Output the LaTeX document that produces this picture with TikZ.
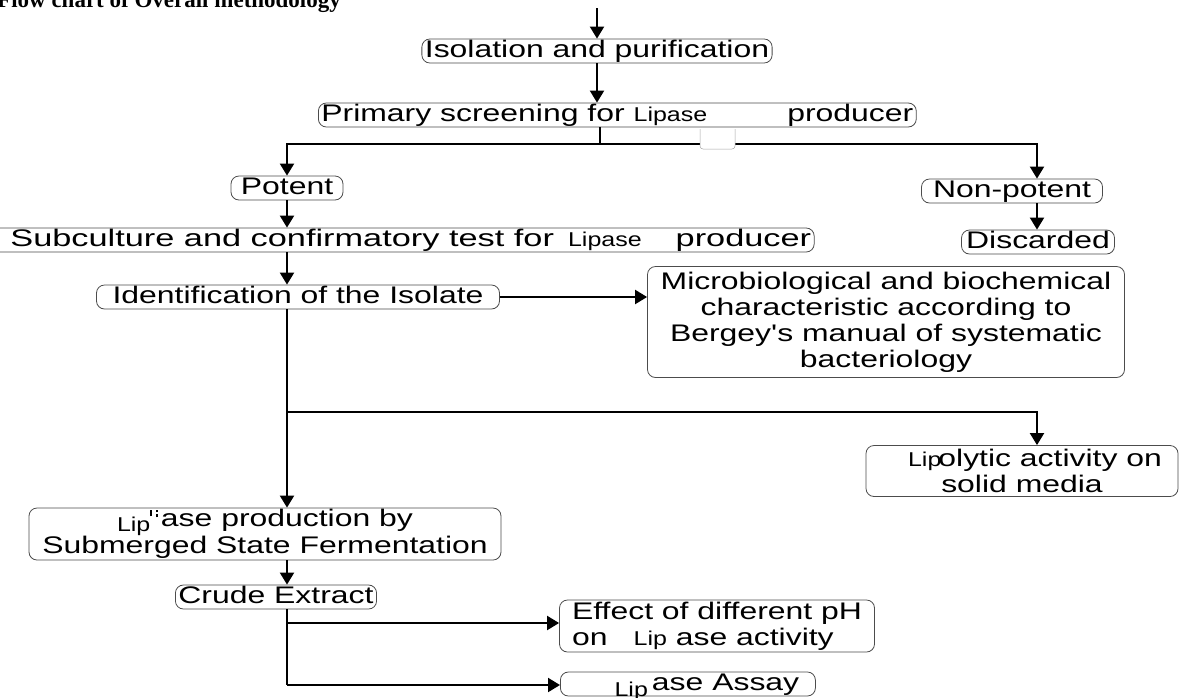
\documentclass[tikz,border=0pt]{standalone}
\usepackage{fontspec}
\usetikzlibrary{arrows.meta}
\newfontfamily\af[FakeStretch=1.33]{Liberation Sans}
\newfontfamily\afw[FakeStretch=1.43]{Liberation Sans}
\newfontfamily\lf[FakeStretch=1.25]{Liberation Sans}
\newfontfamily\tf{Liberation Serif}
\newcommand\lp[1]{{\lf\fontsize{20}{22}\selectfont #1}}
\tikzset{
  boxbase/.style={draw=black!70, line width=0.8pt, rounded corners=8pt, fill=white,
    font=\af\fontsize{24}{26}\selectfont, inner xsep=3pt, inner ysep=1pt},
  box/.style={boxbase, text height=17pt, text depth=5pt},
  mbox/.style={boxbase, align=center},
  arr/.style={line width=2pt, -{Triangle[length=12pt,width=14pt]}},
  ln/.style={line width=2pt}
}
\begin{document}
\begin{tikzpicture}[x=1pt,y=-1pt]
\useasboundingbox (0,0) rectangle (1186,697);
\clip (0,0) rectangle (1186,697);

% title (cut at top)
\node[anchor=base west, inner sep=0, font=\tf\bfseries\fontsize{23}{26}\selectfont] (title) at (-3,7.5) {Flow chart of Overall methodology};

% nodes
\node[box, minimum width=345pt] (iso) at (597,51) {Isolation and purification};
\node[box, anchor=west] (prim) at (318,115) {Primary screening for \lp{Lipase}\hspace{80pt}producer};
\node[box, minimum width=112pt] (pot) at (287,188) {Potent};
\node[box, minimum width=181pt] (npot) at (1012,191) {Non-potent};
\node[box, minimum width=153pt] (disc) at (1038,242) {Discarded};
\node[box, anchor=west, font=\afw\fontsize{24}{26}\selectfont] (sub) at (-14,240) {\hspace{21pt}Subculture and confirmatory test for\hspace{14pt}\lp{Lipase}\hspace{34pt}producer};
\node[box, minimum width=403pt] (ident) at (298,297) {Identification of the Isolate};
\node[mbox, minimum width=477pt, minimum height=111pt] (micro) at (886,322)
  {Microbiological and biochemical\\characteristic according to\\Bergey's manual of systematic\\bacteriology};
\node[mbox, minimum width=312pt, minimum height=51pt] (lipo) at (1022,471)
  {\hspace{26pt}\lp{Lip}\kern-3pt olytic activity on\\solid media};
\node[mbox, minimum width=472pt, minimum height=52pt] (lprod) at (265,534)
  {\raisebox{-5pt}{\lp{Lip}}\rule[10pt]{1.8pt}{6pt}\kern4pt\rule[14pt]{1.8pt}{2pt}\kern-1.8pt\rule[9pt]{1.8pt}{3pt}\kern3pt ase production by\hspace{36pt}\\Submerged State Fermentation};
\node[box, minimum width=192pt] (crude) at (276,597) {Crude Extract};
\node[mbox, minimum width=315pt, minimum height=52pt, align=left] (eff) at (717,626)
  {Effect of different pH\\on\hspace{26pt}\lp{Lip} ase activity};
\node[box, anchor=west, minimum width=255pt] (assay) at (560,684) {\hspace{38pt}\raisebox{-6pt}{\lp{Lip}}\,ase Assay};

% connectors
\coordinate (top) at (597,8);
\draw[arr] (top) -- (iso.north);
\draw[arr] (iso.south) -- (iso.south |- prim.north);
\coordinate (b1) at (600,144);
\draw[ln] (prim.south -| b1) -- (b1);
\draw[arr] (b1) -| (pot.north);
\coordinate (npx) at (1037,144);
\draw[arr] (b1) -- (npx) -- (npx |- npot.north);
% white patch interrupting the line
\draw[black!35, line width=0.5pt, fill=white, rounded corners=3pt] (700,129) -- (700,149) -- (735,149) -- (735,129);
\draw[arr] (pot.south) -- (pot.south |- sub.north);
\draw[arr] (npx |- npot.south) -- (npx |- disc.north);
\draw[arr] (pot.south |- sub.south) -- (pot.south |- ident.north);
\draw[arr] (ident.east) -- (ident.east -| micro.west);
\coordinate (v1) at (287,310);
\coordinate (b2) at (287,412);
\coordinate (b2r) at (1037,412);
\draw[arr] (v1 |- ident.south) -- (v1 |- lprod.north);
\draw[arr] (b2) -- (b2r) -- (b2r |- lipo.north);
\draw[arr] (v1 |- lprod.south) -- (v1 |- crude.north);
\coordinate (c1) at (287,623);
\coordinate (c2) at (287,685);
\draw[ln] (c1 |- crude.south) -- (c2);
\draw[arr] (c1) -- (c1 -| eff.west);
\draw[arr] (c2) -- (c2 -| assay.west);
\end{tikzpicture}
\end{document}
